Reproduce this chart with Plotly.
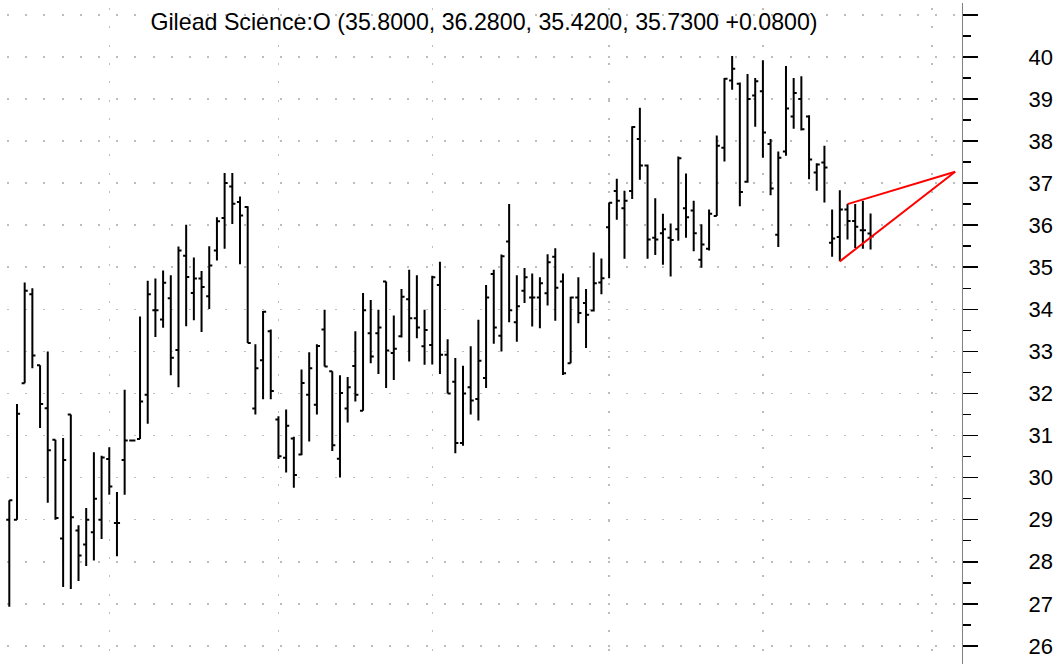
import plotly.graph_objects as go

# ---- data ----
bar_index = list(range(113))
open_ = [29.00, 29.00, 32.24, 34.36, 32.67, 31.65, 30.90, 28.55, 31.50, 28.74,
         28.41, 28.70, 29.00, 30.44, 28.92, 30.42, 30.88, 30.92, 31.97, 33.98,
         33.76, 34.26, 33.03, 35.27, 34.39, 34.73, 34.31, 35.40, 36.17, 36.92,
         36.55, 36.43, 31.64, 32.79, 33.48, 31.38, 30.47, 30.93, 30.55, 31.97,
         31.73, 33.52, 32.53, 30.45, 31.64, 32.65, 31.59, 33.43, 33.43, 34.66,
         32.96, 33.36, 34.24, 33.79, 33.12, 33.15, 34.58, 32.92, 32.28, 30.82,
         32.15, 31.87, 32.37, 34.84, 33.37, 35.61, 33.69, 34.44, 34.28, 34.28,
         34.38, 35.25, 34.66, 32.72, 34.28, 34.15, 33.97, 34.64, 35.95, 36.81,
         36.40, 36.81, 38.05, 37.42, 35.70, 35.81, 35.70, 35.90, 36.40, 36.35,
         35.18, 35.44, 36.22, 37.84, 39.44, 39.36, 37.03, 39.08, 39.18, 37.93,
         35.77, 37.75, 38.58, 39.00, 38.58, 37.25, 37.49, 35.58, 35.72, 36.37,
         36.10, 35.88, 35.80]
high = [29.46, 31.75, 34.64, 34.50, 32.67, 33.00, 30.90, 30.94, 31.50, 28.87,
        29.28, 30.60, 30.52, 30.72, 29.66, 32.09, 30.88, 33.83, 34.68, 34.73,
        34.92, 34.81, 35.49, 36.01, 35.23, 34.91, 35.50, 36.19, 37.24, 37.24,
        36.68, 36.45, 33.17, 33.96, 33.52, 31.46, 31.62, 30.97, 32.57, 32.98,
        33.17, 33.99, 32.53, 32.43, 32.39, 33.48, 34.39, 34.22, 33.99, 34.66,
        33.85, 34.48, 34.94, 34.81, 33.99, 34.80, 35.13, 33.29, 32.84, 32.66,
        33.12, 33.75, 34.58, 34.94, 35.30, 36.50, 34.81, 34.98, 34.85, 34.76,
        35.31, 35.45, 34.85, 34.30, 34.76, 34.48, 35.35, 35.21, 36.54, 37.10,
        36.82, 38.35, 38.79, 37.44, 36.64, 36.27, 36.04, 37.63, 37.23, 36.58,
        36.02, 36.37, 38.13, 39.50, 40.02, 39.39, 39.59, 39.50, 39.92, 38.05,
        37.75, 39.78, 39.50, 39.54, 38.61, 37.47, 37.89, 36.37, 36.83, 36.50,
        36.50, 36.58, 36.28]
low = [26.93, 29.00, 32.24, 32.60, 31.18, 29.40, 29.00, 27.40, 27.35, 27.54,
       27.90, 28.03, 28.54, 29.59, 28.13, 29.59, 30.88, 30.92, 31.28, 33.34,
       33.56, 32.43, 32.15, 33.60, 33.74, 33.46, 34.01, 35.16, 35.44, 36.03,
       35.07, 33.20, 31.50, 31.86, 31.86, 30.44, 30.12, 29.76, 30.53, 30.86,
       31.50, 32.64, 30.63, 30.00, 31.31, 31.81, 31.59, 32.72, 32.46, 32.13,
       32.32, 33.33, 32.76, 33.31, 32.68, 32.69, 32.46, 32.00, 30.58, 30.76,
       31.50, 31.36, 32.13, 33.18, 33.00, 33.69, 33.23, 34.15, 33.59, 33.55,
       34.09, 33.73, 32.44, 32.72, 33.67, 33.08, 33.95, 34.36, 34.74, 36.13,
       35.20, 36.62, 37.08, 35.20, 35.29, 35.06, 34.78, 35.63, 35.70, 35.38,
       34.99, 35.40, 36.22, 37.51, 39.22, 36.45, 37.01, 38.34, 37.60, 36.71,
       35.48, 37.65, 38.29, 38.25, 37.09, 36.82, 36.54, 35.25, 35.14, 35.66,
       35.46, 35.44, 35.42]
close = [29.46, 31.52, 34.44, 32.90, 31.75, 30.65, 29.04, 30.42, 29.06, 28.15,
         29.00, 29.50, 30.48, 29.79, 28.92, 30.88, 30.88, 31.81, 34.36, 33.98,
         34.63, 32.85, 35.40, 34.77, 34.73, 34.53, 35.04, 36.09, 37.00, 36.51,
         36.23, 33.20, 32.60, 33.94, 32.06, 30.51, 31.23, 30.06, 32.25, 32.60,
         33.13, 32.64, 30.77, 32.01, 32.15, 31.97, 33.98, 32.88, 33.57, 33.02,
         33.06, 34.30, 33.79, 33.57, 33.51, 34.76, 32.92, 32.00, 30.82, 32.00,
         31.83, 32.78, 34.28, 33.57, 35.26, 33.98, 34.07, 34.76, 34.28, 34.62,
         35.12, 34.51, 32.48, 34.28, 33.91, 33.87, 34.62, 34.74, 36.53, 36.58,
         36.58, 38.33, 37.42, 35.66, 35.66, 35.90, 35.65, 37.59, 36.19, 35.81,
         35.54, 36.27, 37.89, 39.48, 39.72, 36.79, 39.00, 39.42, 38.20, 36.87,
         37.60, 38.77, 39.14, 38.28, 37.56, 37.44, 37.37, 35.68, 36.37, 36.10,
         35.96, 35.88, 35.73]

month_starts = [13, 35, 55, 78, 98, 120]

# red wedge drawn on the chart
wedge_lower_x = [108, 123]
wedge_lower_y = [35.14, 37.27]
wedge_upper_x = [109, 123]
wedge_upper_y = [36.50, 37.27]

price_ticks = list(range(26, 42))
price_labels = [str(v) if v <= 40 else "" for v in price_ticks]
price_minor = [v + 0.5 for v in range(26, 41)]

title_text = "Gilead Science:O (35.8000, 36.2800, 35.4200, 35.7300 +0.0800)"

FONT = "Liberation Sans, Arial, sans-serif"

fig = go.Figure()
fig.add_trace(go.Ohlc(
    x=bar_index, open=open_, high=high, low=low, close=close,
    increasing=dict(line=dict(color="black", width=2)),
    decreasing=dict(line=dict(color="black", width=2)),
    tickwidth=0.4, hoverinfo="skip", showlegend=False,
))
fig.add_trace(go.Scatter(x=wedge_lower_x, y=wedge_lower_y, mode="lines",
                         line=dict(color="#ff0000", width=2), showlegend=False,
                         hoverinfo="skip"))
fig.add_trace(go.Scatter(x=wedge_upper_x, y=wedge_upper_y, mode="lines",
                         line=dict(color="#ff0000", width=2), showlegend=False,
                         hoverinfo="skip"))

fig.update_layout(
    width=1061, height=664,
    margin=dict(l=0, r=99, t=3, b=0, pad=0),
    paper_bgcolor="white", plot_bgcolor="white",
    font=dict(family=FONT, size=22, color="black"),
    title=dict(text=title_text, x=484 / 1061, xanchor="center",
               y=1 - 22 / 664, yanchor="middle",
               font=dict(family=FONT, size=23.2, color="black")),
    showlegend=False,
    hovermode=False,
)
fig.update_xaxes(
    range=[-1.21, 123.89], rangeslider=dict(visible=False),
    tickvals=month_starts, showticklabels=False, ticks="",
    showgrid=True, gridcolor="#bdbdbd", gridwidth=1.5,
    griddash="0px,5px,2px,11.3px",
    zeroline=False, showline=False, fixedrange=True,
)
fig.update_yaxes(
    side="right", range=[25.57, 41.28],
    tickvals=price_ticks, ticktext=price_labels,
    ticks="outside", ticklen=15, tickwidth=1.5, tickcolor="black",
    showline=True, linecolor="#808080", linewidth=1,
    ticklabelstandoff=46,
    tickfont=dict(family=FONT, size=22, color="black"),
    showgrid=True, gridcolor="#bdbdbd", gridwidth=1.5,
    griddash="0px,7px,2px,9.2px",
    zeroline=False, fixedrange=True,
    minor=dict(tickvals=price_minor, ticks="outside", ticklen=8,
               tickwidth=1.5, tickcolor="black", showgrid=False),
)

fig.write_html("out.html",
               config={"displayModeBar": False, "staticPlot": True},
               post_script="document.body.style.margin='0px';"
                           "document.body.style.overflow='hidden';")
